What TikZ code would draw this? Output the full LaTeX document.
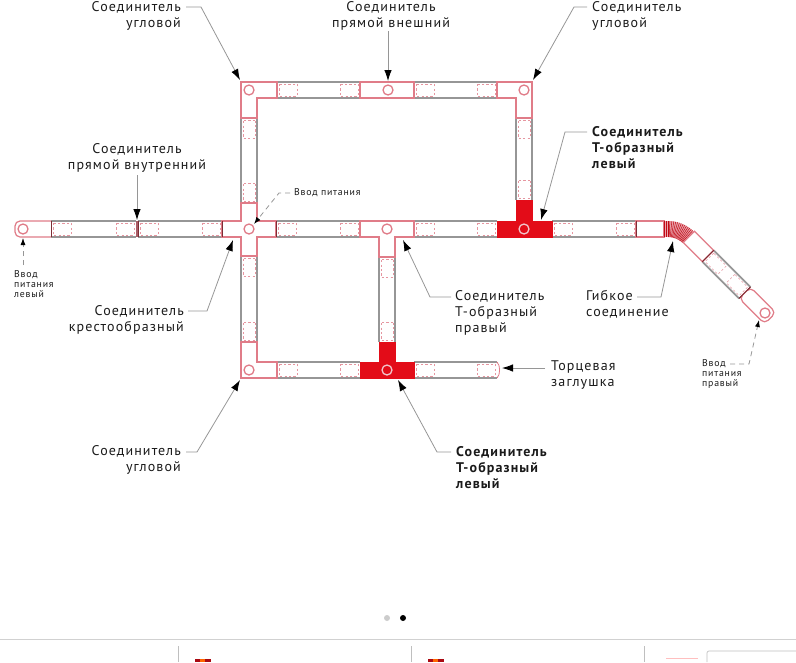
\documentclass[tikz,border=0pt]{standalone}
\usepackage{fontspec}
\setmainfont[LetterSpace=8]{PT Sans}
\usepackage{tikz}
\usetikzlibrary{arrows.meta,positioning}
\definecolor{trkpink}{HTML}{E07C88}
\definecolor{trkred}{HTML}{E30C18}
\definecolor{trkdark}{HTML}{7E2C34}
\definecolor{trkgrey}{HTML}{969696}
\definecolor{trkink}{HTML}{1A1A1A}
\tikzset{
  joint/.style={draw=trkpink,line width=1.2pt,fill=white,line join=miter},
  jointred/.style={draw=trkred,line width=1pt,fill=trkred},
  hub/.style={circle,draw=trkpink,line width=1.3pt,fill=none,minimum size=10pt,inner sep=0pt},
  label/.style={inner sep=0pt,text=trkink,font=\fontsize{14}{16}\selectfont},
  small/.style={inner sep=0pt,text=trkink,font=\fontsize{9.8}{10.4}\selectfont},
  leader/.style={draw=trkgrey,line width=.8pt,-{Latex[length=11pt,width=7.5pt,black]}},
  leaderdash/.style={leader,dashed,dash pattern=on 5pt off 4pt,-{Latex[length=7pt,width=5pt,black]}},
}
% one grey section: start point, angle, length
\newcommand{\railpiece}[4]{
  \begin{scope}[shift={(#1,#2)},rotate=#3]
    \fill[white] (0,-8) rectangle (#4,8);
    \draw[trkpink!80,line width=.5pt,dash pattern=on 2.2pt off 2.2pt] (2,-6) rectangle (20,6);
    \draw[trkpink!80,line width=.5pt,dash pattern=on 2.2pt off 2.2pt] ({#4-20},-6) rectangle ({#4-2},6);
    \draw[trkgrey,line width=1.7pt] (0,-8) -- (#4,-8) (0,8) -- (#4,8);
    \draw[trkdark,line width=.8pt] (0,-8) -- (0,8) (#4,-8) -- (#4,8);
  \end{scope}
}
\begin{document}
\begin{tikzpicture}[x=1pt,y=-1pt]
\useasboundingbox (0,0) rectangle (796,662);

\foreach \xa/\ya/\ang/\len in {51/229/0/85,138/229/0/84,277/90/0/83,414/90/0/83,276/229/0/84,414/229/0/83,277/370/0/83,414/370/0/83,552/229/0/84,249/118/-90/85,249/256/-90/86,387/257/-90/85,524/118/-90/82,708/256/-45/52}
  \railpiece{\xa}{\ya}{\ang}{\len}
\draw[trkpink!75!black,line width=2.2pt] (137,221) -- (137,237);

% connectors
\draw[joint] (222,221) -- (241,221) -- (241,203) -- (257,203) -- (257,221) -- (276,221) -- (276,237) -- (257,237) -- (257,256) -- (241,256) -- (241,237) -- (222,237) -- cycle;
\draw[joint] (241,82) -- (277,82) -- (277,98) -- (257,98) -- (257,118) -- (241,118) -- cycle;
\draw[joint] (497,82) -- (532,82) -- (532,118) -- (516,118) -- (516,98) -- (497,98) -- cycle;
\draw[joint] (241,342) -- (257,342) -- (257,362) -- (277,362) -- (277,378) -- (241,378) -- cycle;
\draw[joint] (360,82) rectangle (414,98);
\draw[joint] (360,221) -- (414,221) -- (414,237) -- (395,237) -- (395,257) -- (379,257) -- (379,237) -- (360,237) -- cycle;
\draw[joint] (636,221) rectangle (664,237);
\draw[jointred] (497,221) -- (516,221) -- (516,200.5) -- (532,200.5) -- (532,221) -- (552,221) -- (552,237) -- (497,237) -- cycle;
\draw[jointred] (360,362) -- (379,362) -- (379,342) -- (395,342) -- (395,362) -- (414,362) -- (414,378) -- (360,378) -- cycle;
\draw[joint,rounded corners=5pt] (51,221) -- (15,221) -- (15,237) -- (51,237);
\draw[trkdark,line width=.8pt] (51,221) -- (51,237) (222,221) -- (222,237) (276,221) -- (276,237) (636,221) -- (636,237);
\draw[joint,line width=.8pt] (497,362) .. controls (500.5,365) and (500.5,375) .. (497,378);

% flexible part
\fill[trkpink!70] (664,221) rectangle (668,237);
\begin{scope}[shift={(668,258)}]
  \fill[trkpink!70] (-90:37) arc[start angle=-90,end angle=-45,radius=37] -- (-45:21) arc[start angle=-45,end angle=-90,radius=21] -- cycle;
  \foreach \ang in {-90,-87,...,-46}
    \draw[trkred!85!black,line width=.5pt] (\ang:21) -- (\ang:37);
\end{scope}
\draw[trkred!85!black,line width=.5pt] (664,221) -- (664,237) (666,221) -- (666,237);

% far end of the sloped run
\begin{scope}[shift={(708,256)},rotate=-45]
  \draw[joint] (-27,-8) rectangle (0,8);
  \draw[trkdark,line width=.8pt] (0,-8) -- (0,8);
  \begin{scope}[shift={(52,0)}]
    \draw[joint,rounded corners=5pt] (0,-8) -- (36,-8) -- (36,8) -- (0,8) -- cycle;
    \draw[trkdark,line width=.8pt] (0,-8) -- (0,8);
  \end{scope}
\end{scope}

% hubs
\foreach \hname/\xa/\ya in {hubStart/23/229,hubCross/249/229,hubTopL/249/90,hubTopM/388/90,hubTopR/524/90,hubTee/387/229,hubLowL/249/370,hubEnd/765/313}
  \node[hub] (\hname) at (\xa,\ya) {};
\node[hub,draw=trkpink!45] (hubRedA) at (524,229) {};
\node[hub,draw=trkpink!45] (hubRedB) at (387,370) {};

% labels
\node[label,anchor=north east,align=right] (lblTopL) at (181,1) {Соединитель\\угловой};
\node[label,anchor=north,align=center] (lblTopM) at (391,1) {Соединитель\\прямой внешний};
\node[label,anchor=north west,align=left] (lblTopR) at (592,1) {Соединитель\\угловой};
\node[label,anchor=north,align=center] (lblInner) at (137,143) {Соединитель\\прямой внутренний};
\node[label,anchor=north east,align=right] (lblCross) at (184,305) {Соединитель\\крестообразный};
\node[label,anchor=north east,align=right] (lblLowL) at (181,445) {Соединитель\\угловой};
\node[label,anchor=north west,align=left,font=\fontsize{14}{16}\selectfont\bfseries] (lblRedA) at (592,126) {Соединитель\\Т-образный\\левый};
\node[label,anchor=north west,align=left,font=\fontsize{14}{16}\selectfont\bfseries] (lblRedB) at (456,446) {Соединитель\\Т-образный\\левый};
\node[label,anchor=north west,align=left] (lblTee) at (455,290) {Соединитель\\Т-образный\\правый};
\node[label,anchor=north west,align=left] (lblFlex) at (586,290) {Гибкое\\соединение};
\node[label,anchor=north west,align=left] (lblCap) at (551,360) {Торцевая\\заглушка};
\node[small,anchor=west] (lblFeed) at (294,193) {Ввод питания};
\node[small,anchor=north west,align=left] (lblFeedL) at (14,270) {Ввод\\питания\\левый};
\node[small,anchor=north west,align=left] (lblFeedR) at (702,359) {Ввод\\питания\\правый};

% leaders
\coordinate (tipTopL) at (240,80);
\coordinate (tipTopM) at (388,81);
\coordinate (tipTopR) at (533,80);
\coordinate (tipInner) at (137,220);
\coordinate (tipCross) at (233,240);
\coordinate (tipLowL) at (240,380);
\coordinate (tipRedA) at (541,220);
\coordinate (tipRedB) at (398,380);
\coordinate (tipTee) at (403,240);
\coordinate (tipFlex) at (673,241);
\coordinate (tipCap) at (502,368);
\coordinate (tipFeed) at (254,224);
\coordinate (tipFeedL) at (23,238);
\coordinate (tipFeedR) at (759,320);
\draw[leader] (186,7) -- (201,7) -- (tipTopL);
\draw[leader] (388,31) -- (tipTopM);
\draw[leader] (587,7) -- (574,7) -- (tipTopR);
\draw[leader] (lblInner.south -| tipInner) ++(0,3) -- (tipInner);
\draw[leader] (188,311) -- (207,311) -- (tipCross);
\draw[leader] (186,452) -- (197,452) -- (tipLowL);
\draw[leader] (587,132) -- (565,132) -- (tipRedA);
\draw[leader] (451,452) -- (437,452) -- (tipRedB);
\draw[leader] (451,297) -- (430,297) -- (tipTee);
\draw[leader] (637,297) -- (661,297) -- (tipFlex);
\draw[leader] (lblCap.north west |- tipCap) ++(-6,0) -- (tipCap);
\draw[leaderdash] (lblFeed.west) ++(-4,0) -- (279,193) -- (tipFeed);
\draw[leaderdash] (lblFeedL.north -| tipFeedL) ++(0,-5) -- (tipFeedL);
\draw[leaderdash] (730,364) -- (749,364) -- (tipFeedR);

% pager and the strip below
\fill[black!20] (387,618) circle (3);
\fill[black] (403,618) circle (3);
\draw[black!18,line width=.8pt] (0,639) -- (796,639);
\foreach \xa in {178.5,411.5,644.5}
  \draw[black!25,line width=.7pt] (\xa,646) -- (\xa,662);
\foreach \xa in {195,428} {
  \fill[trkred!75!black] (\xa,659) rectangle +(16,3);
  \fill[orange!80!red] (\xa+5,659) rectangle +(5,3);
}
\draw[pink,line width=.8pt] (666,658) -- (698,658);
\draw[black!25,line width=.7pt,rounded corners=2pt] (707,662) -- (707,651) -- (796,651);
\end{tikzpicture}
\end{document}
